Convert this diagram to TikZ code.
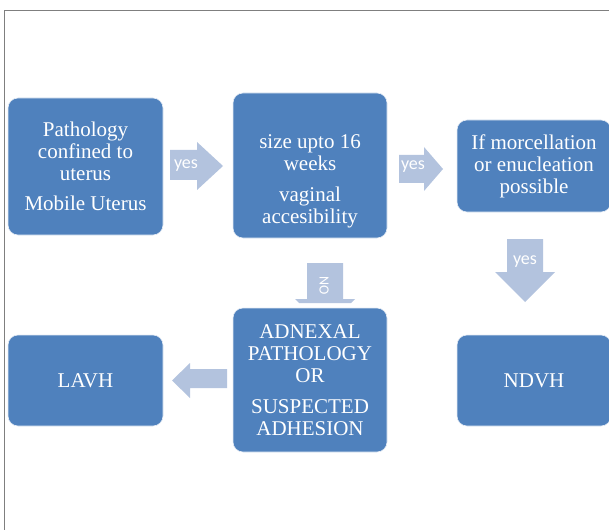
\documentclass[tikz,border=0pt]{standalone}
\usepackage{fontspec}
\setmainfont{Liberation Serif}
\newfontfamily\lblfont{Carlito}
\definecolor{boxblue}{HTML}{4F81BD}
\definecolor{arrblue}{HTML}{B3C3DE}
\definecolor{framegray}{HTML}{7F7F7F}
\begin{document}
\begin{tikzpicture}[x=1pt,y=-1pt,
  box/.style={rectangle, rounded corners=10pt, fill=boxblue, draw=white!85!boxblue, line width=0.6pt, inner sep=0pt},
  txt/.style={text=white, align=center, font=\fontsize{21}{22}\selectfont, inner sep=0pt},
  arr/.style={fill=arrblue, draw=none},
  lbl/.style={text=white, font=\lblfont\fontsize{18}{20}\selectfont, inner sep=0pt}]
\useasboundingbox (0,0) rectangle (609,529);
\clip (0,0) rectangle (609,529);
\draw[framegray, line width=1pt] (4.5,530) -- (4.5,10.5) -- (610,10.5);

% boxes
\node[box, minimum width=155pt, minimum height=137pt] (b1) at (85.5,166.5) {};
\node[txt] (t1) at (b1.center) {Pathology\\confined to\\uterus\\[8pt]Mobile Uterus};
\node[box, minimum width=154pt, minimum height=145pt] (b2) at (310,165.5) {};
\node[txt] (t2) at (310,181) {size upto 16\\weeks\\[9pt]vaginal\\accesibility};
\node[box, minimum width=154pt, minimum height=92pt] (b3) at (534,166) {};
\node[txt] (t3) at (b3.center) {If morcellation\\or enucleation\\possible};
\node[box, minimum width=155pt, minimum height=91pt] (b4) at (85.5,380.5) {};
\node[txt] (t4) at (b4.center) {LAVH};
\node[box, minimum width=154pt, minimum height=144pt] (b5) at (310,380) {};
\node[txt] (t5) at (b5.center) {ADNEXAL\\PATHOLOGY\\OR\\[9pt]SUSPECTED\\ADHESION};
\node[box, minimum width=154pt, minimum height=91pt] (b6) at (534,380.5) {};
\node[txt] (t6) at (b6.center) {NDVH};

% arrows
\fill[arr] (170,150) -- (197,150) -- (197,142) -- (223,166) -- (197,190) -- (197,180) -- (170,180) -- cycle;
\node[lbl] (y1) at (186,166) {yes};
\fill[arr] (399,155) -- (424,155) -- (424,147) -- (443,169) -- (424,191) -- (424,183) -- (399,183) -- cycle;
\node[lbl] (y2) at (413,167) {yes};
\fill[arr] (507,239) -- (543,239) -- (543,272) -- (555,272) -- (525,302) -- (495,272) -- (507,272) -- cycle;
\node[lbl] (y3) at (525,262) {yes};
\fill[arr] (307,263) -- (343,263) -- (343,299) -- (355,299) -- (351,303) -- (299,303) -- (295,299) -- (307,299) -- cycle;
\node[lbl, rotate=-90, font=\lblfont\fontsize{14}{16}\selectfont] (no) at (324,286) {NO};
\fill[arr] (227,369) -- (190,369) -- (190,363) -- (172,380.5) -- (190,398) -- (190,388) -- (227,388) -- cycle;
\end{tikzpicture}
\end{document}
